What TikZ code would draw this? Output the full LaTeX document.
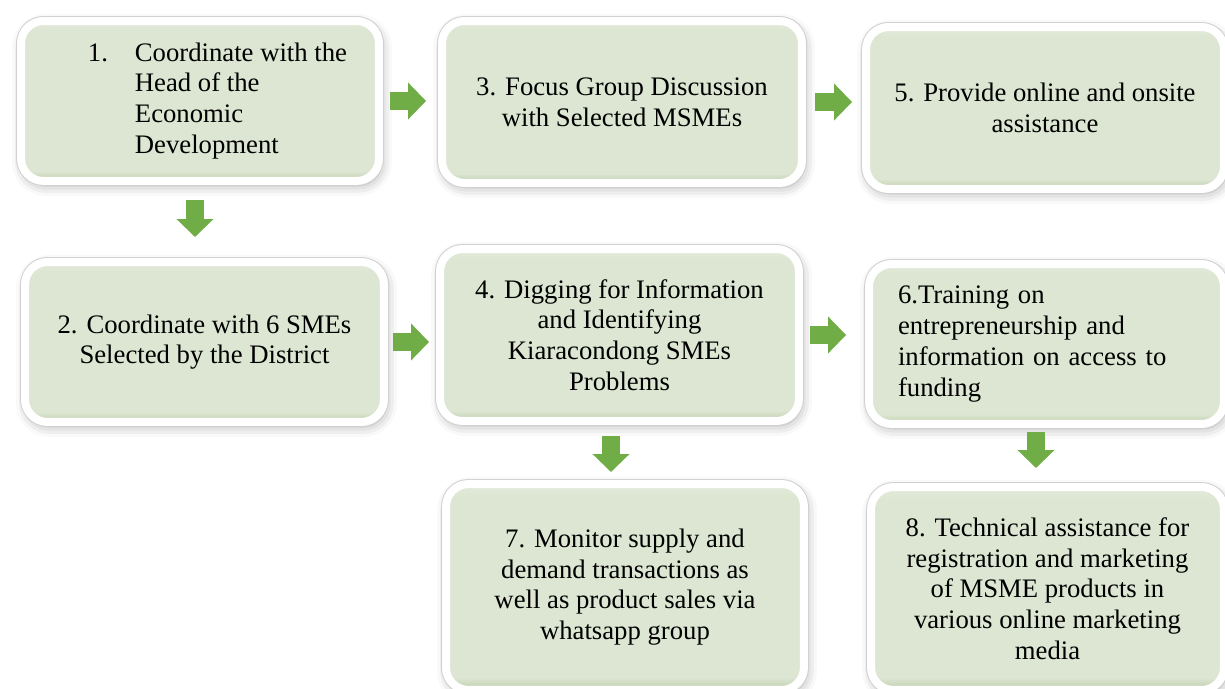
\documentclass[tikz,border=0pt]{standalone}
\usepackage{fontspec}
\setmainfont{Liberation Serif}
\usetikzlibrary{arrows.meta,shadows.blur}
\definecolor{stagefill}{HTML}{DCE6D2}
\definecolor{stagetop}{HTML}{E4ECDC}
\definecolor{stagebottom}{HTML}{BCCCAB}
\definecolor{flowgreen}{HTML}{70AD47}
\pgfdeclareverticalshading{stageshade}{100bp}{color(0bp)=(stagebottom); color(25bp)=(stagebottom);
  color(28bp)=(stagefill); color(72bp)=(stagefill); color(75bp)=(stagetop); color(100bp)=(stagetop)}
\tikzset{
  stage/.style={rectangle, rounded corners=0.45cm, draw=white, line width=0.16cm,
    blur shadow={shadow xshift=0.04cm, shadow yshift=-0.08cm, shadow blur radius=0.22cm, shadow opacity=35},
    preaction={draw=black!18, line width=0.2cm},
    shading=stageshade,
    align=center, inner sep=0pt, font=\fontsize{15.2}{17.5}\selectfont},
  flow/.style 2 args={draw=flowgreen, line width=0.36cm,
    -{Triangle[width=0.72cm,length=0.36cm]}, shorten <=#1, shorten >=#2}
}
\begin{document}
\begin{tikzpicture}[x=0.02cm, y=-0.02cm, line join=round]
\clip (0,0) rectangle (1225,689);
% first row
\node[stage, minimum width=7.16cm, minimum height=3.2cm] (s1) at (200,101)
  {\begin{tabular}{@{\hspace{0.7cm}}l@{\hspace{0.54cm}}l@{}}1.&Coordinate with the\\&Head of the\\&Economic\\&Development\end{tabular}};
\node[stage, minimum width=7.2cm, minimum height=3.24cm] (s3) at (622,102)
  {3. Focus Group Discussion\\with Selected MSMEs};
\node[stage, minimum width=7.16cm, minimum height=3.24cm] (s5) at (1045,108)
  {5. Provide online and onsite\\assistance};
% second row
\node[stage, minimum width=7.18cm, minimum height=3.2cm] (s2) at (204.5,342)
  {2. Coordinate with 6 SMEs\\Selected by the District};
\node[stage, minimum width=7.18cm, minimum height=3.44cm] (s4) at (619.5,335)
  {4. Digging for Information\\and Identifying\\Kiaracondong SMEs\\Problems};
\node[stage, minimum width=7.1cm, minimum height=3.2cm, text width=5.94cm, align=left] (s6) at (1046.5,344)
  {6.Training on\\entrepreneurship and\\information on access to\\funding};
% third row
\node[stage, minimum width=7.16cm, minimum height=4.12cm] (s7) at (625,587)
  {7. Monitor supply and\\demand transactions as\\well as product sales via\\whatsapp group};
\node[stage, minimum width=7.06cm, minimum height=4.06cm] (s8) at (1047.5,588.5)
  {8. Technical assistance for\\registration and marketing\\of MSME products in\\various online marketing\\media};
% arrows
\draw[flow={0.14cm}{0.24cm}] (s1.east) -- (s1.east -| s3.west);
\draw[flow={0.18cm}{0.2cm}] (s3.east) -- (s3.east -| s5.west);
\draw[flow={0.1cm}{0.14cm}] (s2.east) -- (s2.east -| s4.west);
\draw[flow={0.14cm}{0.38cm}] (s4.east) -- (s4.east -| s6.west);
\draw[flow={0.3cm}{0.42cm}] ([xshift=-0.1cm]s1.south) -- ([xshift=-0.1cm]s1.south |- s2.north);
\draw[flow={0.22cm}{0.16cm}] ([xshift=-0.17cm]s4.south) -- ([xshift=-0.17cm]s4.south |- s7.north);
\draw[flow={0.08cm}{0.3cm}] ([xshift=-0.21cm]s6.south) -- ([xshift=-0.21cm]s6.south |- s8.north);
\end{tikzpicture}
\end{document}
